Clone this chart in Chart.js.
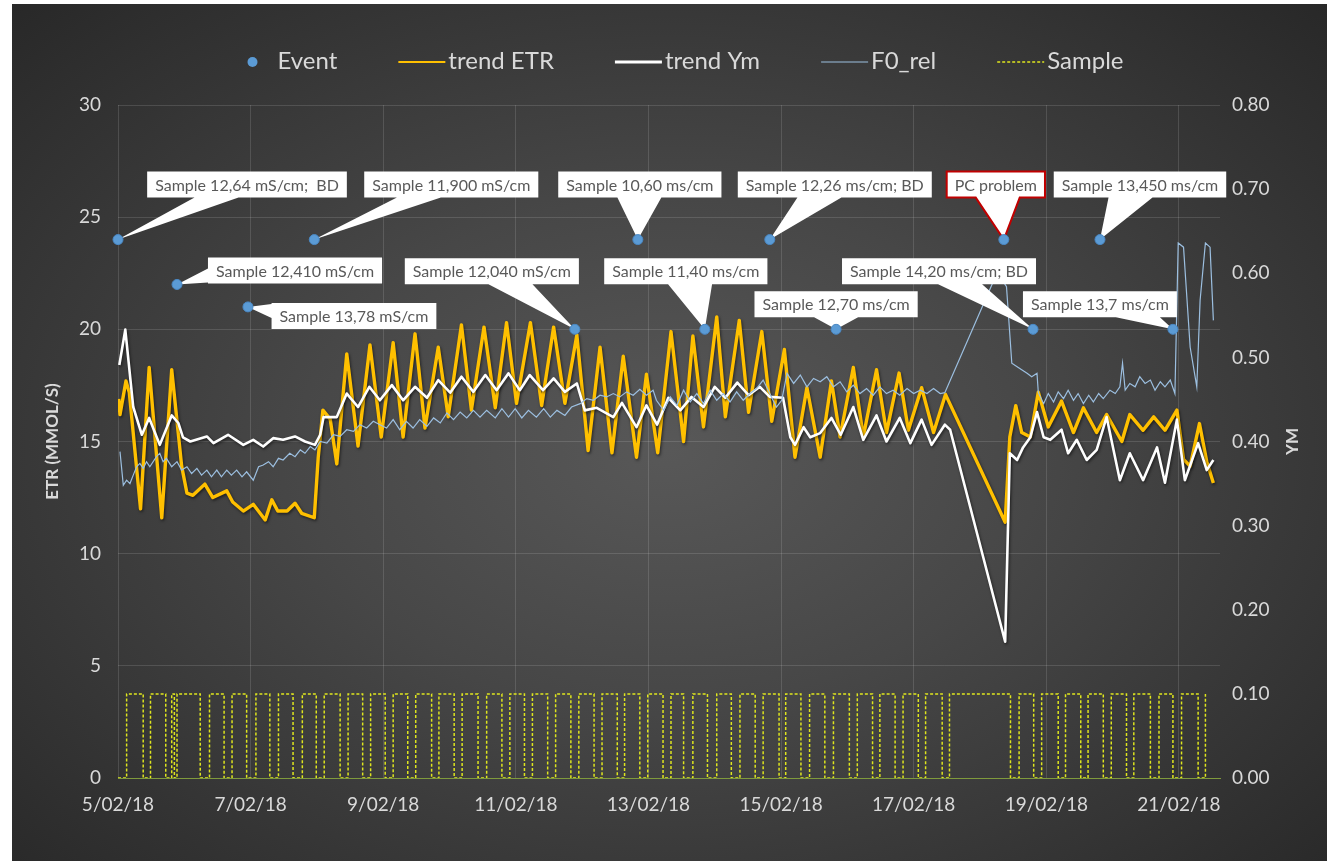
<!DOCTYPE html>
<html><head><meta charset="utf-8">
<script src="https://cdn.jsdelivr.net/npm/chart.js@4.4.1/dist/chart.umd.min.js"></script>
<style>
html,body{margin:0;padding:0;background:#fff;width:1334px;height:861px;overflow:hidden;}
#wrap{position:absolute;left:12px;top:4px;width:1315px;height:857px;
background:radial-gradient(ellipse farthest-corner at 50% 52%, #585858 0%, #474747 40%, #282828 100%);}
canvas{display:block;}
</style></head><body>
<div id="wrap"><canvas id="c" width="1315" height="857"></canvas></div>
<script>
// ---------- data (days since 5/02/18, value) ----------
const dateTicks = ['5/02/18','7/02/18','9/02/18','11/02/18','13/02/18','15/02/18','17/02/18','19/02/18','21/02/18'];

const eventDays = [0.00,0.89,1.96,2.96,6.89,7.84,8.85,9.83,10.83,13.36,13.80,14.81,15.91];
const eventETR  = [24,22,21,24,20,24,20,24,20,24,20,24,20];
const eventLabels = [
  'Sample 12,64 mS/cm;  BD','Sample 12,410 mS/cm','Sample 13,78 mS/cm','Sample 11,900 mS/cm',
  'Sample 12,040 mS/cm','Sample 10,60 ms/cm','Sample 11,40 ms/cm','Sample 12,26 ms/cm; BD',
  'Sample 12,70 ms/cm','PC problem','Sample 14,20 ms/cm; BD','Sample 13,450 ms/cm','Sample 13,7 ms/cm'
];

const etrSeries = [[0.01,16.9],[0.03,16.2],[0.12,17.7],[0.17,17.2],[0.34,12.0],[0.47,18.3],[0.66,11.6],[0.81,18.2],[0.96,13.9],[1.04,12.7],[1.13,12.6],[1.31,13.1],[1.43,12.5],[1.64,12.8],[1.73,12.3],[1.89,11.9],[2.04,12.2],[2.22,11.5],[2.32,12.4],[2.41,11.9],[2.55,11.9],[2.67,12.25],[2.77,11.8],[2.96,11.6],[3.02,14.3],[3.09,16.4],[3.20,16.0],[3.30,14.0],[3.45,18.9],[3.62,14.8],[3.80,19.3],[3.97,15.2],[4.15,19.4],[4.30,15.2],[4.48,19.8],[4.63,15.6],[4.83,19.2],[4.98,16.1],[5.18,20.2],[5.33,16.4],[5.52,20.1],[5.69,16.5],[5.86,20.3],[6.01,16.7],[6.22,20.3],[6.39,16.6],[6.57,20.1],[6.74,16.7],[6.92,19.75],[7.09,14.6],[7.27,19.2],[7.45,14.5],[7.62,18.8],[7.82,14.3],[7.97,18.0],[8.14,14.5],[8.34,19.9],[8.53,15.0],[8.67,19.7],[8.83,15.65],[9.03,20.55],[9.16,16.1],[9.37,20.4],[9.51,16.3],[9.71,19.9],[9.86,15.9],[10.05,19.1],[10.21,14.3],[10.39,17.4],[10.59,14.3],[10.76,17.7],[10.89,15.2],[11.09,18.3],[11.24,15.2],[11.44,18.2],[11.59,15.4],[11.78,18.05],[11.92,15.5],[12.12,17.4],[12.30,15.4],[12.48,17.1],[13.38,11.4],[13.45,15.2],[13.54,16.6],[13.63,15.4],[13.76,15.2],[13.88,17.2],[14.03,15.65],[14.23,16.8],[14.41,15.4],[14.56,16.5],[14.76,15.4],[14.91,16.2],[15.14,15.0],[15.26,16.2],[15.46,15.5],[15.62,16.1],[15.79,15.5],[15.97,16.4],[16.07,14.2],[16.17,13.9],[16.31,15.8],[16.42,14.1],[16.52,13.15]];

const ymSeries = [[0.02,0.491],[0.11,0.533],[0.23,0.441],[0.36,0.408],[0.47,0.428],[0.63,0.396],[0.81,0.431],[0.91,0.422],[0.98,0.405],[1.09,0.400],[1.34,0.406],[1.44,0.398],[1.66,0.408],[1.89,0.396],[2.04,0.402],[2.19,0.394],[2.34,0.404],[2.49,0.402],[2.67,0.406],[2.82,0.400],[2.97,0.396],[3.05,0.408],[3.10,0.429],[3.30,0.429],[3.45,0.457],[3.62,0.441],[3.79,0.465],[3.95,0.449],[4.13,0.467],[4.30,0.449],[4.48,0.465],[4.66,0.452],[4.83,0.473],[5.01,0.458],[5.18,0.477],[5.36,0.459],[5.54,0.479],[5.71,0.461],[5.89,0.481],[6.06,0.461],[6.21,0.479],[6.41,0.461],[6.57,0.475],[6.74,0.459],[6.92,0.469],[7.04,0.437],[7.22,0.440],[7.47,0.429],[7.60,0.446],[7.82,0.417],[7.97,0.443],[8.13,0.420],[8.30,0.452],[8.48,0.437],[8.65,0.453],[8.83,0.441],[9.00,0.465],[9.16,0.452],[9.34,0.470],[9.51,0.455],[9.68,0.465],[9.83,0.453],[10.03,0.452],[10.14,0.405],[10.21,0.396],[10.34,0.417],[10.44,0.405],[10.59,0.410],[10.76,0.428],[10.90,0.408],[11.09,0.441],[11.24,0.402],[11.44,0.431],[11.59,0.400],[11.79,0.428],[11.95,0.398],[12.12,0.426],[12.27,0.396],[12.47,0.420],[12.55,0.414],[13.38,0.162],[13.45,0.386],[13.56,0.378],[13.65,0.393],[13.76,0.405],[13.86,0.435],[13.96,0.405],[14.06,0.402],[14.23,0.414],[14.33,0.386],[14.46,0.402],[14.61,0.378],[14.76,0.390],[14.91,0.429],[15.11,0.354],[15.26,0.386],[15.46,0.354],[15.67,0.393],[15.79,0.351],[15.97,0.426],[16.09,0.354],[16.29,0.398],[16.42,0.366],[16.52,0.378]];

const f0Series = [[0.03,0.388],[0.08,0.348],[0.13,0.354],[0.18,0.350],[0.23,0.360],[0.28,0.370],[0.33,0.374],[0.38,0.368],[0.43,0.376],[0.48,0.370],[0.58,0.382],[0.63,0.386],[0.68,0.376],[0.73,0.380],[0.81,0.370],[0.89,0.376],[0.96,0.366],[1.04,0.370],[1.11,0.362],[1.19,0.368],[1.26,0.360],[1.34,0.366],[1.41,0.358],[1.49,0.366],[1.56,0.358],[1.64,0.366],[1.71,0.360],[1.79,0.366],[1.87,0.358],[1.94,0.364],[2.04,0.354],[2.12,0.370],[2.19,0.372],[2.27,0.376],[2.34,0.370],[2.42,0.380],[2.49,0.378],[2.59,0.386],[2.67,0.382],[2.75,0.390],[2.82,0.386],[2.90,0.394],[2.97,0.390],[3.05,0.400],[3.15,0.398],[3.25,0.408],[3.35,0.406],[3.45,0.414],[3.55,0.412],[3.65,0.420],[3.75,0.416],[3.85,0.424],[3.95,0.420],[4.05,0.416],[4.15,0.426],[4.25,0.414],[4.35,0.424],[4.45,0.416],[4.55,0.426],[4.66,0.418],[4.76,0.428],[4.86,0.422],[4.96,0.434],[5.06,0.426],[5.16,0.435],[5.26,0.428],[5.36,0.437],[5.46,0.429],[5.56,0.437],[5.69,0.428],[5.79,0.439],[5.89,0.429],[5.99,0.439],[6.09,0.428],[6.19,0.437],[6.31,0.429],[6.42,0.439],[6.52,0.429],[6.62,0.437],[6.74,0.431],[6.84,0.441],[6.97,0.445],[7.07,0.451],[7.17,0.449],[7.27,0.455],[7.37,0.453],[7.47,0.457],[7.57,0.453],[7.67,0.459],[7.77,0.455],[7.87,0.462],[7.97,0.455],[8.07,0.461],[8.12,0.449],[8.23,0.437],[8.33,0.453],[8.43,0.443],[8.53,0.461],[8.63,0.447],[8.73,0.457],[8.83,0.445],[8.93,0.461],[9.03,0.449],[9.13,0.457],[9.23,0.447],[9.33,0.459],[9.43,0.449],[9.53,0.457],[9.63,0.463],[9.73,0.473],[9.83,0.457],[9.93,0.441],[10.01,0.449],[10.09,0.481],[10.19,0.469],[10.29,0.479],[10.39,0.465],[10.49,0.475],[10.59,0.471],[10.69,0.477],[10.79,0.465],[10.89,0.471],[10.99,0.459],[11.09,0.467],[11.19,0.457],[11.29,0.463],[11.39,0.455],[11.49,0.465],[11.59,0.457],[11.69,0.461],[11.79,0.455],[11.90,0.463],[12.00,0.457],[12.10,0.461],[12.20,0.457],[12.30,0.463],[12.40,0.457],[12.47,0.458],[13.26,0.601],[13.40,0.584],[13.48,0.493],[13.56,0.489],[13.71,0.481],[13.78,0.477],[13.86,0.481],[13.88,0.458],[13.96,0.445],[14.03,0.457],[14.11,0.447],[14.18,0.459],[14.26,0.451],[14.33,0.461],[14.41,0.449],[14.48,0.457],[14.56,0.445],[14.64,0.455],[14.71,0.447],[14.79,0.457],[14.86,0.451],[14.96,0.461],[15.04,0.457],[15.11,0.465],[15.15,0.493],[15.19,0.461],[15.26,0.469],[15.34,0.465],[15.41,0.477],[15.49,0.469],[15.57,0.473],[15.64,0.461],[15.72,0.471],[15.79,0.465],[15.87,0.473],[15.94,0.457],[15.99,0.636],[16.07,0.631],[16.17,0.512],[16.27,0.465],[16.32,0.568],[16.40,0.636],[16.47,0.631],[16.52,0.544]];

const sampleSteps = [[0,0],[0.13,0.1],[0.38,0],[0.49,0.1],[0.72,0],[0.81,0.1],[0.85,0],[0.89,0.1],[1.24,0],[1.38,0.1],[1.60,0],[1.72,0.1],[1.94,0],[2.08,0.1],[2.29,0],[2.42,0.1],[2.64,0],[2.78,0.1],[2.99,0],[3.11,0.1],[3.35,0],[3.47,0.1],[3.69,0],[3.81,0.1],[4.03,0],[4.15,0.1],[4.37,0],[4.49,0.1],[4.73,0],[4.84,0.1],[5.07,0],[5.19,0.1],[5.43,0],[5.56,0.1],[5.79,0],[5.91,0.1],[6.13,0],[6.25,0.1],[6.48,0],[6.60,0.1],[6.83,0],[6.95,0.1],[7.18,0],[7.30,0.1],[7.53,0],[7.64,0.1],[7.87,0],[7.99,0.1],[8.22,0],[8.34,0.1],[8.53,0],[8.67,0.1],[8.89,0],[9.03,0.1],[9.25,0],[9.38,0.1],[9.61,0],[9.73,0.1],[9.97,0],[10.07,0.1],[10.30,0],[10.43,0.1],[10.66,0],[10.79,0.1],[11.03,0],[11.15,0.1],[11.38,0],[11.49,0.1],[11.72,0],[11.84,0.1],[12.07,0],[12.18,0.1],[12.43,0],[12.54,0.1],[13.46,0],[13.59,0.1],[13.81,0],[13.93,0.1],[14.18,0],[14.29,0.1],[14.52,0],[14.63,0.1],[14.86,0],[14.98,0.1],[15.21,0],[15.32,0.1],[15.57,0],[15.70,0.1],[15.91,0],[16.04,0.1],[16.29,0],[16.40,0.1]];

// ---------- styling (not data) ----------
const FONT = "Lato, 'DejaVu Sans', sans-serif";
const TXT = '#d9d9d9';
const GRID = 'rgba(255,255,255,0.13)';
const calloutOffsets = [[129,-55],[118,-14],[106,9],[137,-55],[-83,-58],[2,-55],[-19,-58],[65,-55],[0,-25],[-8,-55],[-94,-58],[40,-55],[-73,-25]];
const outlinedCallouts = [9];
const legendLine = {'trend ETR':2,'trend Ym':3,'F0_rel':1.2,'Sample':1.5};

const toXY = arr => arr.map(([x,y]) => ({x, y}));

function calloutPath(ctx, L, T, R, B, px, py) {
  const cx=(L+R)/2, cy=(T+B)/2, dx=px-cx, dy=py-cy, w=(R-L)/2, h=(B-T)/2;
  let edge, ix=cx, iy=cy;
  if (Math.abs(dx)*h > Math.abs(dy)*w) { edge = dx>0?'R':'L'; iy = cy + dy*(w/Math.abs(dx)); }
  else { edge = dy>0?'B':'T'; ix = cx + dx*(h/Math.abs(dy)); }
  let a1, a2;
  if (edge==='T'||edge==='B') {
    const hw=22; a1=Math.max(L+1, ix-hw); a2=Math.min(R-1, ix+hw);
    if (a2-a1<2*hw) { if (a1<=L+1) a2=Math.min(R-1,a1+2*hw); else a1=Math.max(L+1,a2-2*hw); }
  } else {
    const hw=7; a1=Math.max(T+1, iy-hw); a2=Math.min(B-1, iy+hw);
    if (a2-a1<2*hw) { if (a1<=T+1) a2=Math.min(B-1,a1+2*hw); else a1=Math.max(T+1,a2-2*hw); }
  }
  ctx.beginPath(); ctx.moveTo(L,T);
  if (edge==='T'){ctx.lineTo(a1,T);ctx.lineTo(px,py);ctx.lineTo(a2,T);}
  ctx.lineTo(R,T);
  if (edge==='R'){ctx.lineTo(R,a1);ctx.lineTo(px,py);ctx.lineTo(R,a2);}
  ctx.lineTo(R,B);
  if (edge==='B'){ctx.lineTo(a2,B);ctx.lineTo(px,py);ctx.lineTo(a1,B);}
  ctx.lineTo(L,B);
  if (edge==='L'){ctx.lineTo(L,a2);ctx.lineTo(px,py);ctx.lineTo(L,a1);}
  ctx.closePath();
}

const decorPlugin = {
  id: 'decor',
  beforeDatasetDraw(chart, args) {
    const ds = chart.data.datasets[args.index];
    const ctx = chart.ctx;
    if (ds.glow) {
      ctx.save();
      ctx.shadowColor = 'rgba(0,0,0,0.55)'; ctx.shadowBlur = 3; ctx.shadowOffsetX = 1; ctx.shadowOffsetY = 1.5;
      ds._glowSaved = true;
    }
    if (ds.label === 'Event') {
      ctx.save();
      ctx.font = '16px ' + FONT;
      args.meta.data.forEach((pt, i) => {
        const [ox, oy] = calloutOffsets[i];
        const text = eventLabels[i];
        const bw = ctx.measureText(text).width + 16, bh = 26;
        const cx = pt.x + ox, cy = pt.y + oy;
        calloutPath(ctx, cx-bw/2, cy-bh/2, cx+bw/2, cy+bh/2, pt.x, pt.y);
        ctx.fillStyle = '#ffffff'; ctx.fill();
        if (outlinedCallouts.includes(i)) { ctx.strokeStyle = '#c00000'; ctx.lineWidth = 2; ctx.lineJoin='miter'; ctx.stroke(); }
        ctx.fillStyle = '#595959'; ctx.textAlign = 'center'; ctx.textBaseline = 'middle';
        ctx.fillText(text, cx, cy + 1);
      });
      ctx.restore();
    }
  },
  afterDatasetDraw(chart, args) {
    const ds = chart.data.datasets[args.index];
    if (ds._glowSaved) { chart.ctx.restore(); ds._glowSaved = false; }
  },
  afterDraw(chart) {
    const ctx = chart.ctx;
    ctx.save();
    ctx.font = '24px ' + FONT;
    ctx.textBaseline = 'middle';
    const y = 57, lineLen = 47, itemGap = 61;
    const items = chart.data.datasets.map(ds => ({ds, w: ctx.measureText(ds.label).width, mw: ds.label==='Event' ? 30 : lineLen + 3}));
    let total = 0;
    items.forEach((it, i) => { total += it.mw + it.w + (i < items.length - 1 ? itemGap : 0); });
    let x = 673.5 - total / 2;
    items.forEach(it => {
      const ds = it.ds;
      if (ds.label === 'Event') {
        ctx.beginPath(); ctx.arc(x + 5, y + 1, 5, 0, Math.PI * 2);
        ctx.fillStyle = ds.backgroundColor; ctx.fill();
      } else {
        ctx.beginPath(); ctx.moveTo(x, y + 1); ctx.lineTo(x + lineLen, y + 1);
        ctx.strokeStyle = ds.borderColor; ctx.lineWidth = legendLine[ds.label] || 2;
        ctx.setLineDash(ds.borderDash || []); ctx.stroke(); ctx.setLineDash([]);
      }
      ctx.fillStyle = TXT; ctx.textAlign = 'left';
      ctx.fillText(ds.label, x + it.mw, y);
      x += it.mw + it.w + itemGap;
    });
    const ca = chart.chartArea;
    ctx.translate(1281, (ca.top + ca.bottom) / 2);
    ctx.rotate(-Math.PI / 2);
    ctx.font = 'bold 17px ' + FONT;
    ctx.fillStyle = TXT; ctx.textAlign = 'center'; ctx.textBaseline = 'middle';
    ctx.fillText('YM', 0, 0);
    ctx.restore();
  }
};

Chart.defaults.font.family = FONT;
Chart.defaults.color = TXT;

new Chart(document.getElementById('c'), {
  type: 'line',
  data: {
    datasets: [
      { label: 'Event', data: eventDays.map((d, i) => ({x: d, y: eventETR[i]})), yAxisID: 'y',
        showLine: false, pointRadius: 5, pointHoverRadius: 5, backgroundColor: '#5b9bd5', borderColor: '#4a88c4',
        pointBorderWidth: 1, order: 0, clip: false },
      { label: 'trend ETR', data: toXY(etrSeries), yAxisID: 'y', borderColor: '#ffc000', borderWidth: 3.4,
        pointRadius: 0, tension: 0, order: 4, glow: true, borderJoinStyle: 'round' },
      { label: 'trend Ym', data: toXY(ymSeries), yAxisID: 'y2', borderColor: '#ffffff', borderWidth: 2.6,
        pointRadius: 0, tension: 0, order: 3, glow: true, borderJoinStyle: 'round' },
      { label: 'F0_rel', data: toXY(f0Series), yAxisID: 'y2', borderColor: '#9cbfe0', borderWidth: 1.2,
        pointRadius: 0, tension: 0, order: 2 },
      { label: 'Sample', data: toXY(sampleSteps), yAxisID: 'y2', borderColor: '#dfe61e', borderWidth: 1.5,
        borderDash: [3, 2], stepped: true, pointRadius: 0, order: 1 }
    ]
  },
  options: {
    responsive: false, animation: false, devicePixelRatio: 1,
    layout: { padding: { top: 101, right: 0, bottom: 0, left: 0 } },
    plugins: { legend: { display: false }, tooltip: { enabled: false } },
    scales: {
      x: { type: 'linear', min: 0, max: 16.62,
        ticks: { stepSize: 2, includeBounds: false, autoSkip: false, maxRotation: 0, color: TXT,
          font: { size: 19 }, padding: 15, callback: v => dateTicks[Math.round(v / 2)] },
        grid: { color: GRID, drawTicks: false },
        border: { display: true, color: '#7f9a3c', width: 1 },
        afterFit: s => { s.height = 83; } },
      y: { position: 'left', min: 0, max: 30,
        ticks: { stepSize: 5, color: TXT, font: { size: 19 }, padding: 17 },
        grid: { color: GRID, drawTicks: false },
        border: { display: false },
        title: { display: true, text: 'ETR (MMOL/S)', color: TXT, font: { size: 17, weight: 'bold' }, padding: { top: 30, bottom: 0 } },
        afterFit: s => { s.width = 106; } },
      y2: { position: 'right', min: 0, max: 0.8,
        ticks: { stepSize: 0.1, color: TXT, font: { size: 19 }, padding: 12, callback: v => v.toFixed(2) },
        grid: { display: false, drawTicks: false },
        border: { display: false },
        afterFit: s => { s.width = 107; } }
    }
  },
  plugins: [decorPlugin]
});
</script></body></html>
